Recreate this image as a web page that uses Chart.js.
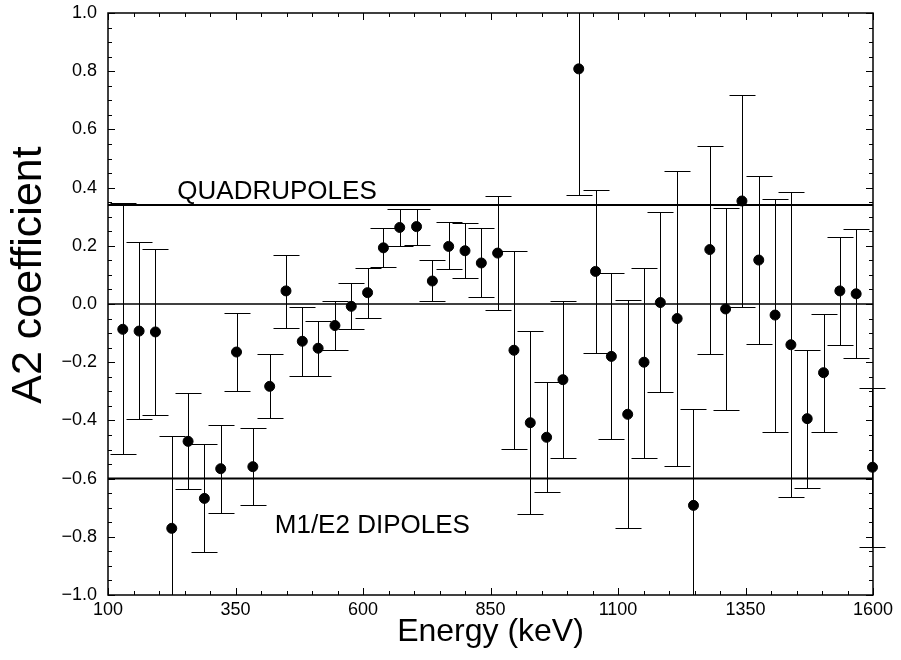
<!DOCTYPE html>
<html>
<head>
<meta charset="utf-8">
<title>A2 coefficient vs energy</title>
<script src="https://cdn.jsdelivr.net/npm/chart.js@4.4.1/dist/chart.umd.min.js"></script>
<style>
  html, body { margin: 0; padding: 0; background: #fff; }
  #wrap { width: 901px; height: 660px; }
</style>
</head>
<body>
<div id="wrap"><canvas id="chart" width="901" height="660"></canvas></div>
<script>
// gamma energies (keV) and measured A2 with the ends of each error bar
const energies = [129, 161, 193, 225, 257, 289, 321, 352, 384, 417, 449, 481, 512, 545, 577, 609,
  640, 672, 705, 736, 768, 800, 832, 864, 896, 928, 960, 992, 1023, 1056, 1087, 1119, 1151,
  1183, 1216, 1248, 1280, 1311, 1343, 1376, 1408, 1439, 1471, 1503, 1535, 1567, 1599];
const a2 = [-0.087, -0.093, -0.096, -0.771, -0.472, -0.668, -0.566, -0.165, -0.559, -0.283, 0.045,
  -0.128, -0.152, -0.074, -0.008, 0.039, 0.193, 0.263, 0.266, 0.079, 0.198, 0.183, 0.141, 0.175,
  -0.159, -0.408, -0.458, -0.26, 0.808, 0.112, -0.18, -0.379, -0.2, 0.005, -0.05, -0.692, 0.187,
  -0.017, 0.354, 0.151, -0.038, -0.14, -0.394, -0.236, 0.045, 0.035, -0.561];
const errHigh = [0.346, 0.213, 0.19, -0.454, -0.307, -0.481, -0.415, -0.03, -0.426, -0.173, 0.169,
  -0.011, -0.057, 0.01, 0.071, 0.125, 0.262, 0.328, 0.328, 0.15, 0.282, 0.277, 0.26, 0.37,
  0.183, -0.093, -0.268, 0.01, 1.2, 0.392, 0.108, 0.013, 0.125, 0.316, 0.456, -0.362, 0.544,
  0.33, 0.717, 0.439, 0.36, 0.384, -0.157, -0.035, 0.23, 0.257, -0.289];
const errLow = [-0.515, -0.395, -0.38, -1.1, -0.637, -0.853, -0.717, -0.3, -0.692, -0.393, -0.081,
  -0.246, -0.249, -0.159, -0.087, -0.049, 0.126, 0.198, 0.203, 0.01, 0.119, 0.089, 0.023, -0.02,
  -0.498, -0.72, -0.646, -0.53, 0.375, -0.168, -0.465, -0.771, -0.528, -0.303, -0.557, -1.1, -0.172,
  -0.364, -0.009, -0.136, -0.439, -0.663, -0.632, -0.439, -0.14, -0.186, -0.834];

const xTickValues = [100, 350, 600, 850, 1100, 1350, 1600];
const yTickValues = [-1.0, -0.8, -0.6, -0.4, -0.2, 0.0, 0.2, 0.4, 0.6, 0.8, 1.0];
const xRange = [100, 1600];
const yRange = [-1.0, 1.0];

// reference levels
const quadrupoleLevel = 0.34;
const dipoleLevel = -0.6;

const FONT = "'Liberation Sans', Arial, Helvetica, sans-serif";

const errorBars = {
  id: 'errorBars',
  beforeDatasetsDraw(chart) {
    const { ctx, chartArea, scales: { x, y } } = chart;
    ctx.save();
    ctx.beginPath();
    ctx.rect(0, chartArea.top, chart.width, chartArea.bottom - chartArea.top);
    ctx.clip();
    ctx.strokeStyle = '#000';
    ctx.lineWidth = 1;
    const half = 13;
    energies.forEach((e, i) => {
      const px = Math.round(x.getPixelForValue(e)) + 0.5;
      const top = Math.round(y.getPixelForValue(errHigh[i])) + 0.5;
      const bot = Math.round(y.getPixelForValue(errLow[i])) + 0.5;
      ctx.beginPath();
      ctx.moveTo(px, top); ctx.lineTo(px, bot);
      ctx.moveTo(px - half, top); ctx.lineTo(px + half, top);
      ctx.moveTo(px - half, bot); ctx.lineTo(px + half, bot);
      ctx.stroke();
    });
    ctx.restore();
  }
};

const frame = {
  id: 'frame',
  afterDraw(chart) {
    const { ctx, chartArea: a, scales: { x, y } } = chart;
    ctx.save();
    ctx.strokeStyle = '#000';
    ctx.lineWidth = 1;
    // minor / major ticks pointing inward on all four sides
    ctx.beginPath();
    for (let v = xRange[0]; v <= xRange[1]; v += 50) {
      const len = xTickValues.includes(v) ? 7 : 4;
      const px = Math.round(x.getPixelForValue(v)) + 0.5;
      ctx.moveTo(px, a.bottom); ctx.lineTo(px, a.bottom - len);
      ctx.moveTo(px, a.top); ctx.lineTo(px, a.top + len);
    }
    for (let k = 0; k <= 40; k++) {
      const v = yRange[0] + k * 0.05;
      const len = k % 4 === 0 ? 7 : 4;
      const py = Math.round(y.getPixelForValue(v)) + 0.5;
      ctx.moveTo(a.left, py); ctx.lineTo(a.left + len, py);
      ctx.moveTo(a.right, py); ctx.lineTo(a.right - len, py);
    }
    ctx.stroke();
    ctx.lineWidth = 1.5;
    ctx.strokeRect(a.left, a.top, a.right - a.left, a.bottom - a.top);

    // level labels
    ctx.fillStyle = '#000';
    ctx.font = '26px ' + FONT;
    ctx.textAlign = 'left';
    ctx.textBaseline = 'alphabetic';
    ctx.fillText('QUADRUPOLES', x.getPixelForValue(236), y.getPixelForValue(0.361));
    ctx.fillText('M1/E2 DIPOLES', x.getPixelForValue(427), y.getPixelForValue(-0.787));

    // y axis title
    ctx.font = '43px ' + FONT;
    ctx.translate(41, 275);
    ctx.rotate(-Math.PI / 2);
    ctx.textAlign = 'center';
    ctx.textBaseline = 'alphabetic';
    ctx.fillText('A2 coefficient', 0, 0);
    ctx.restore();
  }
};

const levelLine = (level, width) => ({
  type: 'line',
  data: xRange.map(v => ({ x: v, y: level })),
  borderColor: '#000',
  borderWidth: width,
  pointRadius: 0,
  fill: false,
  order: 2
});

new Chart(document.getElementById('chart'), {
  type: 'scatter',
  data: {
    datasets: [
      {
        label: 'A2',
        data: energies.map((e, i) => ({ x: e, y: a2[i] })),
        backgroundColor: '#000',
        borderColor: '#000',
        pointRadius: 5,
        pointHoverRadius: 5,
        clip: false,
        order: 1
      },
      levelLine(quadrupoleLevel, 2),
      levelLine(0, 1.5),
      levelLine(dipoleLevel, 2)
    ]
  },
  options: {
    responsive: false,
    animation: false,
    devicePixelRatio: 1,
    layout: { padding: { left: 0, right: 28, top: 13, bottom: 0 } },
    plugins: { legend: { display: false }, tooltip: { enabled: false } },
    scales: {
      x: {
        type: 'linear',
        min: xRange[0],
        max: xRange[1],
        afterBuildTicks: s => { s.ticks = xTickValues.map(v => ({ value: v })); },
        afterFit: s => { s.height = 65; s.paddingLeft = 0; s.paddingRight = 0; },
        grid: { display: false, drawTicks: false },
        border: { display: false },
        ticks: {
          color: '#000',
          padding: 4,
          maxRotation: 0,
          font: { family: FONT, size: 18 },
          callback: v => String(v)
        },
        title: {
          display: true,
          text: 'Energy (keV)',
          color: '#000',
          font: { family: FONT, size: 32, lineHeight: 1 },
          padding: { top: 0, bottom: 12 }
        }
      },
      y: {
        type: 'linear',
        min: yRange[0],
        max: yRange[1],
        afterBuildTicks: s => { s.ticks = yTickValues.map(v => ({ value: v })); },
        afterFit: s => { s.width = 108; s.paddingTop = 0; s.paddingBottom = 0; },
        grid: { display: false, drawTicks: false },
        border: { display: false },
        ticks: {
          color: '#000',
          padding: 11,
          font: { family: FONT, size: 18 },
          callback: v => v.toFixed(1).replace('-', '\u2212')
        }
      }
    }
  },
  plugins: [errorBars, frame]
});
</script>
</body>
</html>
